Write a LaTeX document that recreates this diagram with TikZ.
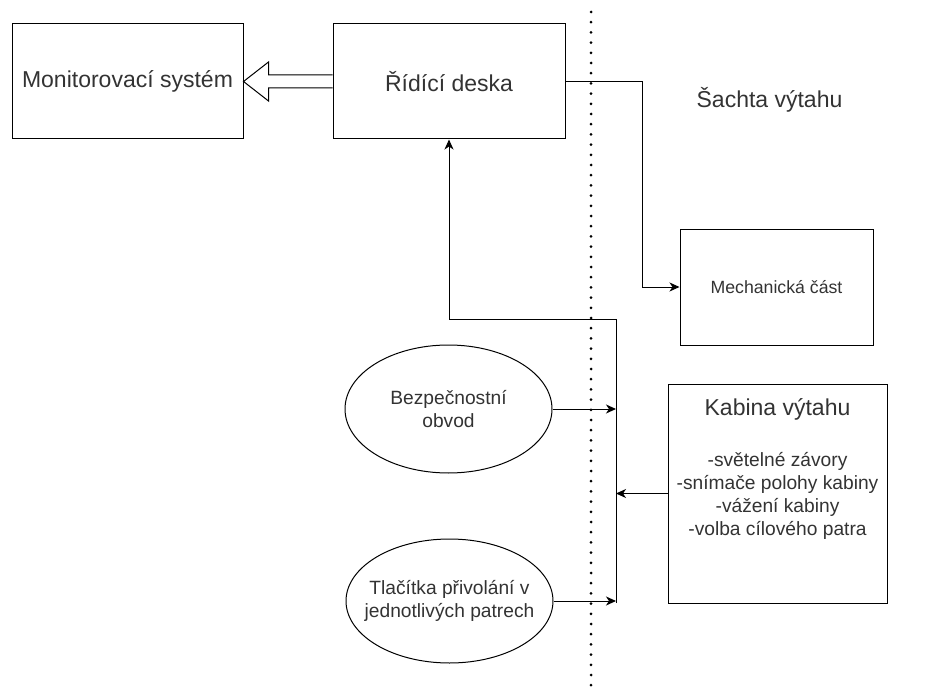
\documentclass[tikz,border=0pt]{standalone}
\usepackage{fontspec}
\setmainfont{Liberation Sans}
\usetikzlibrary{shapes.geometric,arrows.meta,calc}
\definecolor{txt}{HTML}{333333}
\begin{document}
\begin{tikzpicture}[x=1pt,y=-1pt,
  box/.style={draw=black,line width=1pt,rectangle,inner sep=0pt,text=txt,align=center},
  oval/.style={draw=black,line width=1pt,ellipse,inner sep=0pt},
  ovaltext/.style={text=txt,align=center,inner sep=0pt,font=\fontsize{19.2}{23}\selectfont},
  big/.style={font=\fontsize{23}{27}\selectfont},
  mid/.style={font=\fontsize{19.2}{23}\selectfont},
  conn/.style={line width=1pt,draw=black},
  arr/.style={conn,-{Stealth[length=10pt,width=9pt,inset=3pt]}},
  hollow/.style={line width=1pt,draw=black,fill=white,line join=miter},
  dotline/.style={line width=3pt,line cap=round,dash pattern=on 0pt off 10.2pt,draw=black}
]
\useasboundingbox (0,0) rectangle (932,690);

% separation line
\coordinate (dtop) at (591,12);
\coordinate (dbot) at (591,690);
\draw[dotline] (dtop) -- (dbot);

% boxes
\node[box,big,minimum width=231pt,minimum height=115pt] (mon) at (127.5,81.5) {Monitorovací systém};
\node[box,big,minimum width=232pt,minimum height=115pt] (rid) at (449,81.5) {Řídící deska};
\node[box,font=\fontsize{17.7}{21}\selectfont,minimum width=193pt,minimum height=116pt] (mech) at (776.5,287) {Mechanická část};
\node[box,minimum width=219pt,minimum height=219pt] (kab) at (777.5,493.5) {};
\node[text=txt,big,inner sep=0pt] (kabt) at (777.5,409) {Kabina výtahu};
\node[text=txt,mid,align=center,inner sep=0pt] (kabl) at (777.5,496) {-světelné závory\\-snímače polohy kabiny\\-vážení kabiny\\-volba cílového patra};
\node[text=txt,big,inner sep=0pt] (sachta) at (769.5,100) {Šachta výtahu};

% ellipses
\node[oval,minimum width=207pt,minimum height=128pt] (bez) at (448.5,409) {};
\node[ovaltext] (bezt) at (bez.center) {Bezpečnostní\\obvod};
\node[oval,minimum width=207pt,minimum height=124pt] (tla) at (449.5,601) {};
\node[ovaltext] (tlat) at (tla.center) {Tlačítka přivolání v\\jednotlivých patrech};

% hollow arrow
\draw[hollow] ($(rid.west)+(0,-6.5)$) -- ($(mon.east)+(25,-6.5)$) -- ($(mon.east)+(25,-19.5)$)
  -- (mon.east) -- ($(mon.east)+(25,19.5)$) -- ($(mon.east)+(25,6.5)$) -- ($(rid.west)+(0,6.5)$);

% control board to mechanical part
\coordinate (bend) at (642,81.5);
\draw[arr] (rid.east) -- (bend) |- (mech.west);

% bus
\coordinate (busT) at (616,319);
\coordinate (busB) at (616,603);
\draw[arr] (busB) -- (busT) -| (rid.south);
\draw[arr] (bez.east) -- (bez.east -| busT);
\draw[arr] (tla.east) -- (tla.east -| busT);
\draw[arr] (kab.west) -- (kab.west -| busT);
\end{tikzpicture}
\end{document}
